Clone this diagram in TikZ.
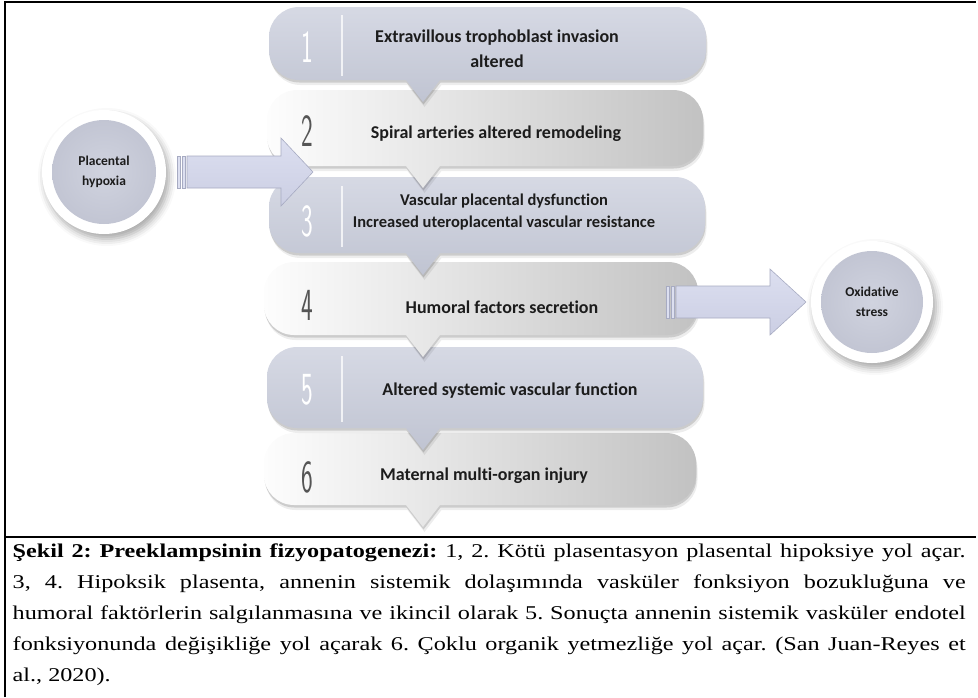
\documentclass[tikz,border=0pt]{standalone}
\usepackage{graphicx}
\usepackage{fontspec}
\setmainfont{Liberation Serif}[FakeStretch=1.24]
\newfontfamily\boxfont{Carlito}[Ligatures={NoCommon}]
\usetikzlibrary{shadows.blur}

\definecolor{oddtop}{HTML}{D6D9E4}
\definecolor{oddbot}{HTML}{C0C4D2}
\definecolor{evenleft}{HTML}{FDFDFD}
\definecolor{evenright}{HTML}{C2C2C2}
\definecolor{arrowtop}{HTML}{DCDFF0}
\definecolor{arrowbot}{HTML}{CBCEE3}
\definecolor{arrowedge}{HTML}{A7ABC2}
\definecolor{discin}{HTML}{D0D3DF}
\definecolor{discout}{HTML}{C2C5D3}
\definecolor{txt}{HTML}{1C1C1C}
\definecolor{darknum}{HTML}{555555}

% callout: rounded box with a small downward pointer
% #1 left, #2 right, #3 top, #4 bottom (pixel units, y downwards), #5 style
\newcommand\callout[5]{%
  \path[#5] (#1+30,-#3) -- (#2-30,-#3)
    arc[start angle=90,end angle=0,radius=30] -- (#2,-#4+30)
    arc[start angle=0,end angle=-90,radius=30] -- (440,-#4)
    -- (423,-#4-22) -- (406,-#4) -- (#1+30,-#4)
    arc[start angle=-90,end angle=-180,radius=30] -- (#1,-#3-30)
    arc[start angle=180,end angle=90,radius=30] -- cycle;}
% a step: soft two-layer shadow, then the shaded callout
\newcommand\stepshape[5]{%
  \callout{#1}{#2}{#3}{#4}{fill=black, opacity=0.07, xshift=1.5pt, yshift=-5pt}
  \callout{#1}{#2}{#3}{#4}{fill=black, opacity=0.14, xshift=0.5pt, yshift=-2.5pt}
  \callout{#1}{#2}{#3}{#4}{#5}}

\tikzset{
  oddbox/.style={top color=oddtop, bottom color=oddbot},
  evenbox/.style={left color=evenleft, right color=evenright},
  steptext/.style={font=\boxfont\bfseries\fontsize{18}{25}\selectfont,
      text=txt, align=center, inner sep=0pt},
  smallsteptext/.style={steptext, font=\boxfont\bfseries\fontsize{16.5}{21.5}\selectfont},
  disctext/.style={font=\boxfont\bfseries\fontsize{13.5}{19.5}\selectfont,
      text=txt, align=center, inner sep=0pt},
  oddnum/.style={text=white, inner sep=0pt,
      font=\sffamily\fontsize{40}{40}\selectfont},
  evennum/.style={text=darknum, inner sep=0pt,
      font=\sffamily\fontsize{40}{40}\selectfont},
  divider/.style={draw=white, line width=1.2pt, opacity=0.75},
  blockarrow/.style={top color=arrowtop, bottom color=arrowbot,
      draw=arrowedge, line width=0.6pt},
  stripe/.style={fill=arrowtop, draw=arrowedge, line width=0.6pt},
  ring/.style={fill=white, blur shadow={shadow xshift=3pt, shadow yshift=-5pt,
      shadow blur radius=7pt, shadow opacity=35}},
  disc/.style={inner color=discin, outer color=discout},
  frame/.style={line width=2pt, draw=black}
}
\newcommand\numeral[1]{\scalebox{0.62}[1.15]{#1}}

\begin{document}
\begin{tikzpicture}[x=1pt,y=1pt]
\useasboundingbox (0,0) rectangle (978,-697);

% steps, drawn bottom-up so each pointer lies over the next box
\stepshape{264}{696}{433}{505}{evenbox}
\stepshape{267}{703}{347}{428}{oddbox}
\stepshape{264}{698}{262}{335}{evenbox}
\stepshape{269}{705}{177}{253}{oddbox}
\stepshape{267}{703}{90}{166}{evenbox}
\stepshape{269}{706}{7}{80}{oddbox}

% separators in the light-blue steps
\draw[divider] (342,-15) -- (342,-76);
\draw[divider] (342,-186) -- (342,-247);
\draw[divider] (342,-356) -- (342,-422);

% step numbers
\node[oddnum]  (n1) at (307,-47)  {\numeral{1}};
\node[evennum] (n2) at (307,-131) {\numeral{2}};
\node[oddnum]  (n3) at (307,-221) {\numeral{3}};
\node[evennum] (n4) at (307,-305) {\numeral{4}};
\node[oddnum]  (n5) at (307,-390) {\numeral{5}};
\node[evennum] (n6) at (307,-477) {\numeral{6}};

% step texts
\node[steptext] (s1) at (497,-49)  {Extravillous trophoblast invasion\\altered};
\node[steptext] (s2) at (496,-134) {Spiral arteries altered remodeling};
\node[smallsteptext] (s3) at (504,-212) {Vascular placental dysfunction\\Increased uteroplacental vascular resistance};
\node[steptext] (s4) at (502,-307) {Humoral factors secretion};
\node[steptext] (s5) at (510,-391) {Altered systemic vascular function};
\node[steptext] (s6) at (484,-476) {Maternal multi-organ injury};

% side discs
\fill[ring] (104,-172) circle (62);
\shade[disc] (104,-172) circle (52);
\node[disctext] (hyp) at (104,-172) {Placental\\hypoxia};

\fill[ring] (872,-302) circle (61);
\shade[disc] (872,-302) circle (51);
\node[disctext] (ox) at (872,-302) {Oxidative\\stress};

% striped block arrows
\path[stripe] (177,-156) rectangle (180,-188);
\path[stripe] (182,-156) rectangle (185,-188);
\path[blockarrow] (187,-156) -- (281,-156) -- (281,-138) -- (313,-172)
   -- (281,-206) -- (281,-188) -- (187,-188) -- cycle;

\path[stripe] (666,-286) rectangle (669,-318);
\path[stripe] (671,-286) rectangle (674,-318);
\path[blockarrow] (676,-286) -- (770,-286) -- (770,-269) -- (806,-302)
   -- (770,-335) -- (770,-318) -- (676,-318) -- cycle;

% frame and caption rule
\draw[frame] (5,-697) -- (5,-2) -- (976,-2);
\draw[frame] (5,-537) -- (976,-537);

% caption
\node[anchor=north west, text width=953pt, align=justify, inner sep=0pt,
      font=\fontsize{19.5}{31}\selectfont] (cap) at (12.5,-544)
 {\frenchspacing\hyphenpenalty=10000 \textbf{Şekil 2: Preeklampsinin fizyopatogenezi:} 1, 2. Kötü plasentasyon plasental hipoksiye yol açar.\linebreak
 3, 4. Hipoksik plasenta, annenin sistemik dolaşımında vasküler fonksiyon bozukluğuna ve\linebreak
 humoral faktörlerin salgılanmasına ve ikincil olarak 5. Sonuçta annenin sistemik vasküler endotel\linebreak
 fonksiyonunda değişikliğe yol açarak 6. Çoklu organik yetmezliğe yol açar. (San Juan-Reyes et\linebreak
 al., 2020).};
\end{tikzpicture}
\end{document}
